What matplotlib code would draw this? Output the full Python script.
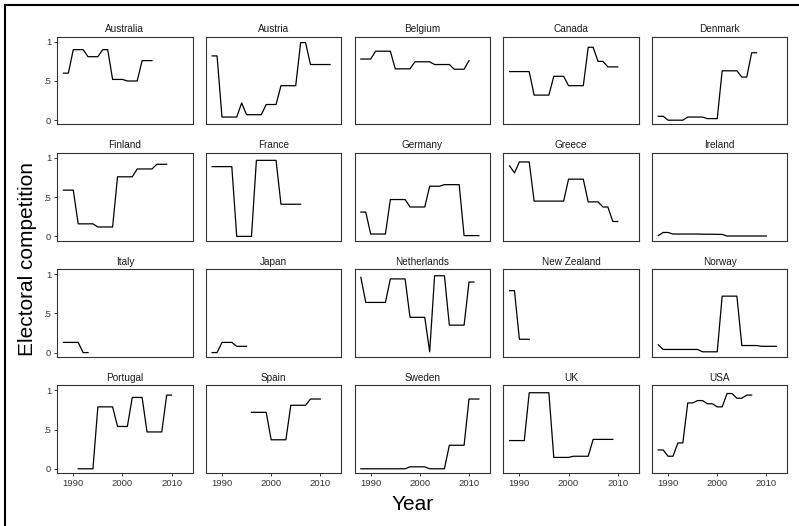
import numpy as np
import matplotlib
matplotlib.use("Agg")
import matplotlib.pyplot as plt
from matplotlib.lines import Line2D

plt.rcParams["font.family"] = ["Liberation Sans", "DejaVu Sans"]

countries = ["Australia", "Austria", "Belgium", "Canada", "Denmark",
             "Finland", "France", "Germany", "Greece", "Ireland",
             "Italy", "Japan", "Netherlands", "New Zealand", "Norway",
             "Portugal", "Spain", "Sweden", "UK", "USA"]

# first year of each country's series
first_year = [1988, 1988, 1988, 1988, 1988,
              1988, 1988, 1988, 1988, 1988,
              1988, 1988, 1988, 1988, 1988,
              1991, 1996, 1988, 1988, 1988]

australia = [.60, .60, .90, .90, .90, .81, .81, .81, .90, .90,
             .52, .52, .52, .50, .50, .50, .76, .76, .76]
austria = [.82, .82, .04, .04, .04, .04, .22, .07, .07, .07, .07, .20, .20,
           .20, .44, .44, .44, .44, .99, .99, .71, .71, .71, .71, .71]
belgium = [.78, .78, .78, .88, .88, .88, .88, .655, .655, .655, .655, .745,
           .745, .745, .745, .71, .71, .71, .71, .65, .65, .65, .76]
canada = [.62, .62, .62, .62, .62, .32, .32, .32, .32, .56, .56, .56,
          .44, .44, .44, .44, .93, .93, .75, .75, .68, .68, .68]
denmark = [.05, .05, .0, .0, .0, .0, .04, .04, .04, .04, .02, .02, .02,
           .63, .63, .63, .63, .55, .55, .86, .86]
finland = [.59, .59, .59, .16, .16, .16, .16, .12, .12, .12, .12,
           .76, .76, .76, .76, .86, .86, .86, .86, .92, .92, .92]
france = [.89, .89, .89, .89, .89, .0, .0, .0, .0, .97, .97, .97, .97, .97,
          .41, .41, .41, .41, .41]
germany = [.31, .31, .03, .03, .03, .03, .47, .47, .47, .47, .375, .375,
           .375, .375, .64, .64, .64, .66, .66, .66, .66, .01, .01, .01, .01]
greece = [.90, .81, .95, .95, .95, .45, .45, .45, .45, .45, .45, .45,
          .73, .73, .73, .73, .44, .44, .44, .375, .375, .19, .19]
ireland = [.01, .05, .05, .03, .03, .03, .03, .03, .03, .028, .028, .027,
           .026, .025, .005, .005, .005, .005, .005, .005, .005, .005, .005]
italy = [.13, .13, .13, .13, .0, .0]
japan = [.0, .0, .13, .13, .13, .08, .08, .08]
netherlands = [.96, .64, .64, .64, .64, .64, .94, .94, .94, .94, .45, .45,
               .45, .45, .01, .98, .98, .98, .35, .35, .35, .35, .90, .90]
new_zealand = [.79, .79, .17, .17, .17]
norway = [.10, .04, .04, .04, .04, .04, .04, .04, .04, .01, .01, .01, .01,
          .72, .72, .72, .72, .09, .09, .09, .09, .08, .08, .08, .08]
portugal = [.0, .0, .0, .0, .79, .79, .79, .79, .54, .54, .54, .91, .91, .91,
            .47, .47, .47, .47, .94, .94]
spain = [.72, .72, .72, .72, .37, .37, .37, .37, .81, .81, .81, .81,
         .89, .89, .89]
sweden = [.0, .0, .0, .0, .0, .0, .0, .0, .0, .0, .025, .025, .025, .025,
          .0, .0, .0, .0, .30, .30, .30, .30, .89, .89, .89]
uk = [.36, .36, .36, .36, .97, .97, .97, .97, .97, .145, .145, .145, .145,
      .16, .16, .16, .16, .375, .375, .375, .375, .375]
usa = [.24, .24, .16, .16, .33, .33, .84, .84, .87, .87, .83, .83, .79, .79,
       .96, .96, .90, .90, .94, .94]

series = [australia, austria, belgium, canada, denmark,
          finland, france, germany, greece, ireland,
          italy, japan, netherlands, new_zealand, norway,
          portugal, spain, sweden, uk, usa]

x_ticks = [1990, 2000, 2010]
y_ticks = [0, 0.5, 1]
y_tick_labels = ["0", ".5", "1"]

W, H = 799, 526
fig = plt.figure(figsize=(W / 100, H / 100), dpi=100)

# panel grid in pixels
left0, top0 = 57.3, 36.7
pw, ph = 135.2, 87.8
dx, dy = 148.7, 116.2
spine_col = "#333333"

for i, (name, vals, y0) in enumerate(zip(countries, series, first_year)):
    r, c = divmod(i, 5)
    x = left0 + c * dx
    y = top0 + r * dy
    ax = fig.add_axes([x / W, 1 - (y + ph) / H, pw / W, ph / H])
    years = np.arange(y0, y0 + len(vals))
    ax.plot(years, vals, color="black", lw=0.9)
    ax.set_xlim(1986.75, 2014.25)
    ax.set_ylim(-0.055, 1.065)
    for s in ax.spines.values():
        s.set_color(spine_col)
        s.set_linewidth(0.8)
    ax.set_title(name, fontsize=7.2, color="#1a1a1a", pad=3.2)
    ax.tick_params(length=2.5, width=0.7, color=spine_col,
                   labelsize=6.8, labelcolor="#333333", pad=2)
    if c == 0:
        ax.set_yticks(y_ticks)
        ax.set_yticklabels(y_tick_labels)
    else:
        ax.set_yticks([])
    if r == 3:
        ax.set_xticks(x_ticks)
    else:
        ax.set_xticks([])

fig.text(28 / W, 1 - 259 / H, "Electoral competition", rotation=90,
         ha="center", va="center", fontsize=15, color="black")
fig.text(413 / W, 1 - 510 / H, "Year", ha="center", va="baseline",
         fontsize=15, color="black")

# outer frame (top and left edges)
fig.add_artist(Line2D([5 / W, 5 / W], [0, 1 - 5 / H], color="black",
                      lw=1.5, transform=fig.transFigure))
fig.add_artist(Line2D([5 / W, 1], [1 - 5 / H, 1 - 5 / H], color="black",
                      lw=1.5, transform=fig.transFigure))

fig.savefig("out.png", dpi=100)
